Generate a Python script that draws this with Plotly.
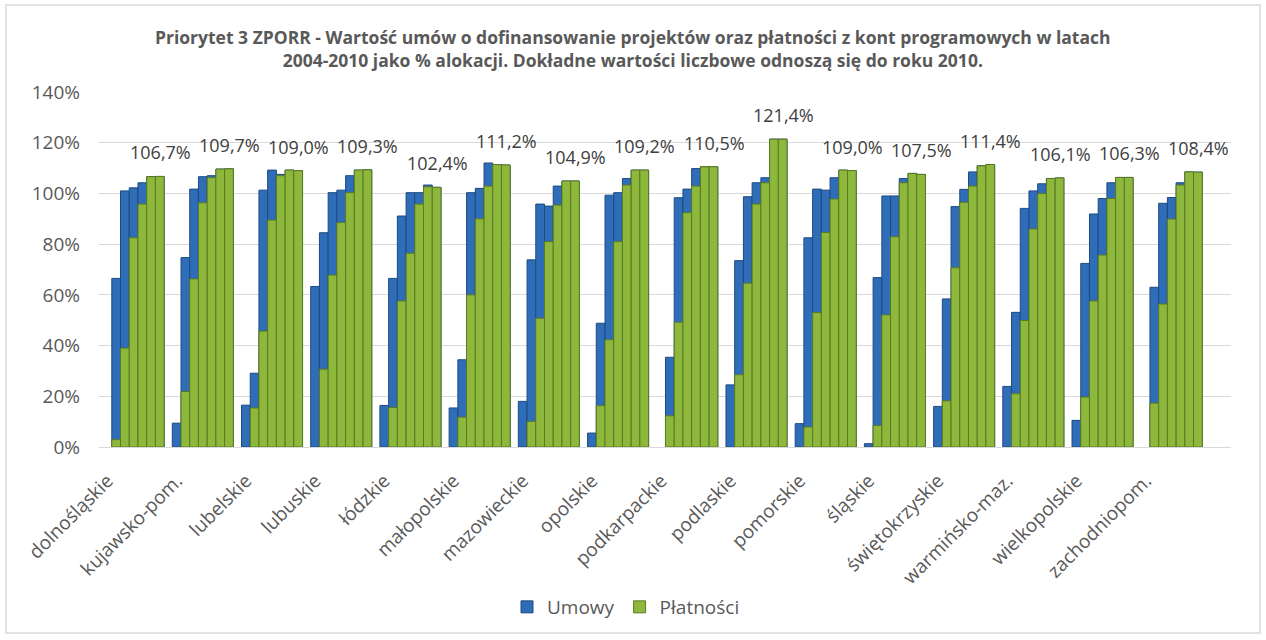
import numpy as np
import plotly.graph_objects as go

# Regions (voivodeships) and reporting years
regions = [
    "dolnośląskie", "kujawsko-pom.", "lubelskie", "lubuskie", "łódzkie",
    "małopolskie", "mazowieckie", "opolskie", "podkarpackie", "podlaskie",
    "pomorskie", "śląskie", "świętokrzyskie", "warmińsko-maz.",
    "wielkopolskie", "zachodniopom.",
]
years = [2004, 2005, 2006, 2007, 2008, 2009, 2010]

# Contracts (Umowy) as % of allocation, one row per region, 2004..2010
umowy = [
    [0.0, 66.5, 101.0, 102.2, 104.2, 106.6, 106.7],
    [9.4, 74.7, 101.7, 106.6, 107.0, 109.6, 109.7],
    [16.5, 29.1, 101.3, 109.2, 107.5, 109.2, 109.0],
    [63.3, 84.5, 100.3, 101.3, 107.0, 109.2, 109.3],
    [16.4, 66.5, 91.1, 100.3, 100.3, 103.3, 102.4],
    [15.4, 34.4, 100.3, 102.0, 112.0, 111.4, 111.2],
    [18.0, 73.8, 95.8, 95.0, 102.9, 104.9, 104.9],
    [5.5, 48.8, 99.3, 100.3, 105.9, 109.2, 109.2],
    [0.0, 35.4, 98.3, 101.7, 109.8, 110.5, 110.5],
    [24.5, 73.5, 98.7, 104.2, 106.2, 121.4, 121.4],
    [9.2, 82.5, 101.7, 101.3, 106.2, 109.2, 109.0],
    [1.3, 66.8, 99.0, 99.0, 105.9, 107.9, 107.5],
    [16.0, 58.4, 94.8, 101.6, 108.5, 110.9, 111.4],
    [23.9, 53.1, 94.1, 101.0, 103.8, 105.9, 106.1],
    [10.5, 72.4, 91.9, 98.0, 104.2, 106.3, 106.3],
    [0.0, 63.0, 96.1, 98.4, 104.2, 108.5, 108.4],
]

# Payments (Płatności) as % of allocation, one row per region, 2004..2010
platnosci = [
    [0.0, 2.9, 39.0, 82.5, 95.8, 106.6, 106.7],
    [0.0, 21.9, 66.3, 96.3, 106.2, 109.6, 109.7],
    [0.0, 15.4, 45.7, 89.5, 107.0, 109.2, 109.0],
    [0.0, 30.7, 67.8, 88.5, 100.3, 109.2, 109.3],
    [0.0, 15.6, 57.6, 76.4, 95.8, 102.6, 102.4],
    [0.0, 11.8, 60.0, 90.0, 102.9, 111.4, 111.2],
    [0.0, 10.1, 50.8, 81.0, 95.4, 104.9, 104.9],
    [0.0, 16.3, 42.3, 81.0, 103.3, 109.2, 109.2],
    [0.0, 12.3, 49.2, 92.4, 102.9, 110.5, 110.5],
    [0.0, 28.5, 64.6, 95.8, 104.2, 121.4, 121.4],
    [0.0, 7.9, 53.0, 84.6, 97.8, 109.2, 109.0],
    [0.0, 8.5, 52.1, 82.9, 104.2, 107.9, 107.5],
    [0.0, 18.2, 70.7, 96.5, 102.9, 110.9, 111.4],
    [0.0, 21.0, 49.9, 86.0, 100.0, 105.9, 106.1],
    [0.0, 19.7, 57.6, 75.7, 98.0, 106.3, 106.3],
    [0.0, 17.3, 56.4, 89.9, 103.3, 108.5, 108.4],
]

y_ticks = [0, 20, 40, 60, 80, 100, 120, 140]
y_tick_labels = [f"{v}%" for v in y_ticks]

U = np.array(umowy).T       # years x regions
P = np.array(platnosci).T


def visible(row):
    # zero-height bars would still draw an outline; leave them out
    return [v if v > 0 else None for v in row]


BLUE, BLUE_EDGE = "#2F6DB8", "#1D4A80"
GREEN, GREEN_EDGE = "#8DB83C", "#5C7A22"
TXT = "#595959"
FONT = "Open Sans"

fig = go.Figure()

# Contracts behind, payments in front: same offsetgroup per year -> overlaid bars
for i, yr in enumerate(years):
    fig.add_trace(go.Bar(
        x=regions, y=visible(U[i]), name="Umowy", offsetgroup=str(yr),
        legendgroup="u", showlegend=(i == 0),
        marker=dict(color=BLUE, line=dict(color=BLUE_EDGE, width=1)),
        hovertemplate="%{x} " + str(yr) + ": %{y:.1f}%<extra>Umowy</extra>",
    ))
for i, yr in enumerate(years):
    fig.add_trace(go.Bar(
        x=regions, y=visible(P[i]), name="Płatności", offsetgroup=str(yr),
        legendgroup="p", showlegend=(i == 0),
        marker=dict(color=GREEN, line=dict(color=GREEN_EDGE, width=1)),
        hovertemplate="%{x} " + str(yr) + ": %{y:.1f}%<extra>Płatności</extra>",
    ))

# Geometry of the page and plot area
W, H = 1266, 640
ML, MR, MT, MB = 99, 35, 92, 193
plot_w = W - ML - MR
plot_h = H - MT - MB
n_groups = len(years)
bargap = 0.118
bar_px = plot_w / len(regions) * (1 - bargap) / n_groups
last_shift = (n_groups - 1) / 2 * bar_px


def px_x(px):
    # page x in pixels -> paper coordinate
    return (px - ML) / plot_w


def px_y(py):
    # page y in pixels (from top) -> paper coordinate
    return (H - MB - py) / plot_h


# Value labels above the 2010 payment bars
annotations = []
for r, v in zip(regions, P[-1]):
    annotations.append(dict(
        x=r, y=v, xref="x", yref="y", text=f"{v:.1f}".replace(".", ",") + "%",
        showarrow=False, xanchor="center", yanchor="bottom",
        xshift=last_shift, yshift=10,
        font=dict(family=FONT, size=18, color="#404040"),
    ))

annotations.append(dict(
    x=px_x(W / 2), y=px_y(49), xref="paper", yref="paper",
    text="Priorytet 3 ZPORR - Wartość umów o dofinansowanie projektów oraz płatności z kont programowych w latach<br>"
         "2004-2010 jako % alokacji. Dokładne wartości liczbowe odnoszą się do roku 2010.",
    showarrow=False, xanchor="center", yanchor="middle", align="center",
    font=dict(family=FONT, size=17.5, color=TXT, weight="bold"),
))

fig.update_layout(
    width=W, height=H,
    margin=dict(l=ML, r=MR, t=MT, b=MB),
    paper_bgcolor="white", plot_bgcolor="white",
    barmode="group", bargap=bargap, bargroupgap=0,
    showlegend=True,
    legend=dict(orientation="h", x=px_x(626), xanchor="center",
                y=px_y(607), yanchor="middle",
                font=dict(family=FONT, size=19, color=TXT),
                traceorder="normal"),
    annotations=annotations,
    shapes=[dict(type="rect", xref="paper", yref="paper",
                 x0=px_x(6), x1=px_x(1260), y0=px_y(633), y1=px_y(5),
                 line=dict(color="#D9D9D9", width=1.5), layer="below")],
    font=dict(family=FONT, color=TXT),
)
fig.update_xaxes(tickangle=-45, tickfont=dict(family=FONT, size=19, color=TXT),
                 showgrid=False, showline=False, ticks="",
                 ticklabelstandoff=18, ticklabelshift=-26)
fig.update_yaxes(range=[0, 140], tickvals=y_ticks, ticktext=y_tick_labels,
                 tickfont=dict(family=FONT, size=19, color=TXT),
                 showgrid=True, gridcolor="#D9D9D9", gridwidth=1,
                 zeroline=True, zerolinecolor="#D9D9D9", zerolinewidth=1,
                 showline=False, ticklabelstandoff=18)

fig.write_html("out.html")
